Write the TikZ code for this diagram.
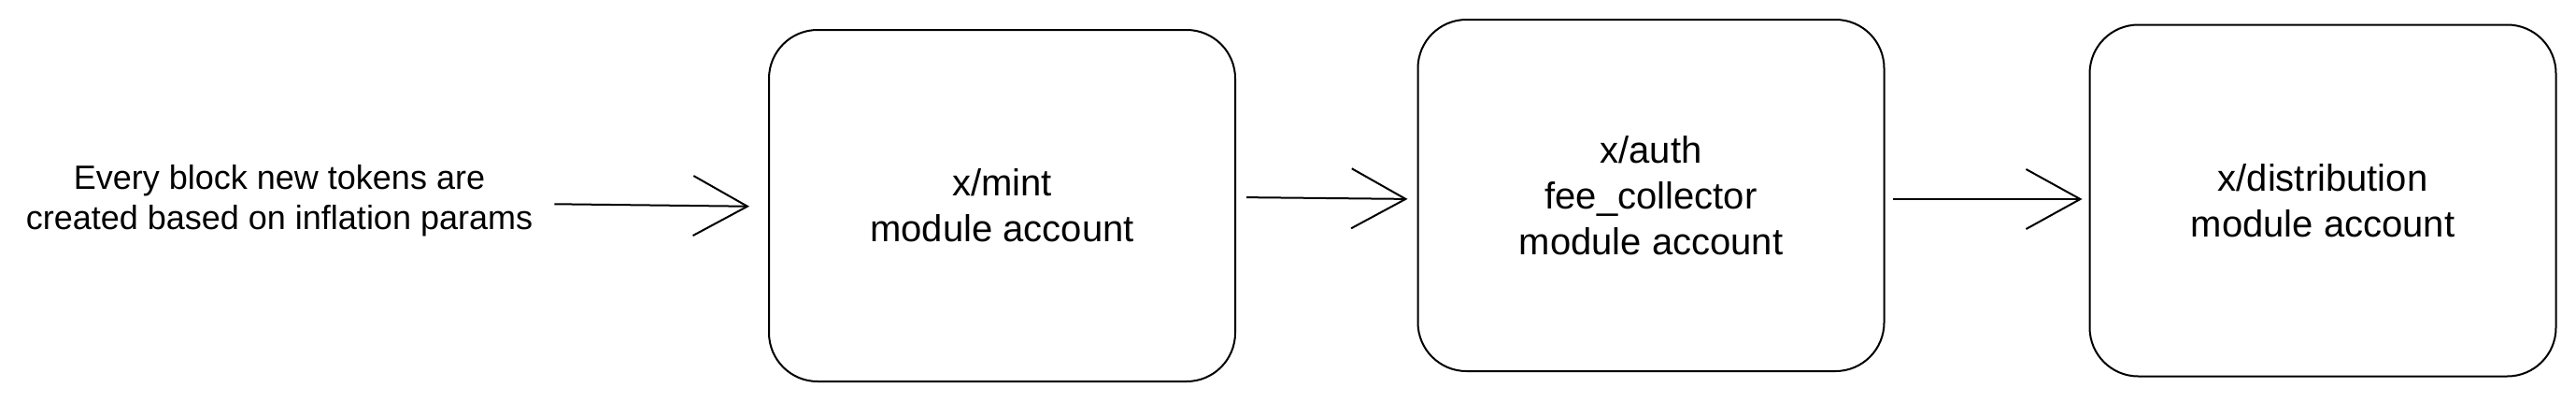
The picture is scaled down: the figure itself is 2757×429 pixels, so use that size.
\documentclass[tikz,border=0pt]{standalone}
\usepackage{fontspec}
\setmainfont{Liberation Sans}
\usetikzlibrary{arrows.meta}

\begin{document}
\begin{tikzpicture}[
  x=1pt, y=-1pt,
  modbox/.style={draw, line width=2pt, rounded corners=52pt, align=center,
    minimum width=499pt, minimum height=376pt,
    font=\fontsize{40}{49}\selectfont},
  note/.style={align=center, inner sep=0pt, font=\fontsize{36}{43}\selectfont},
  flow/.style={-{Straight Barb[length=58pt,width=64pt,line width=2pt]}, line width=2pt}
]
\useasboundingbox (0,0) rectangle (2757,429);

% Source
\node[note] (intro) at (299,215) {Every block new tokens are\\created based on inflation params};

% Accounts
\node[modbox] (mint) at (1072.5,220) {x/mint\\module account};
\node[modbox] (auth) at (1767,209) {x/auth\\fee\_collector\\module account};
\node[modbox] (dist) at (2486,214.5) {x/distribution\\module account};

% Flow
\draw[flow, shorten <=23pt, shorten >=20pt] ([yshift=-3pt]intro.east) -- ([yshift=-1pt]mint.west);
\draw[flow, shorten <=11pt, shorten >=10pt] ([yshift=9pt]mint.east) -- ([yshift=-4pt]auth.west);
\draw[flow, shorten <=8pt, shorten >=7pt] ([yshift=-4pt]auth.east) -- ([yshift=1.5pt]dist.west);

\end{tikzpicture}
\end{document}
